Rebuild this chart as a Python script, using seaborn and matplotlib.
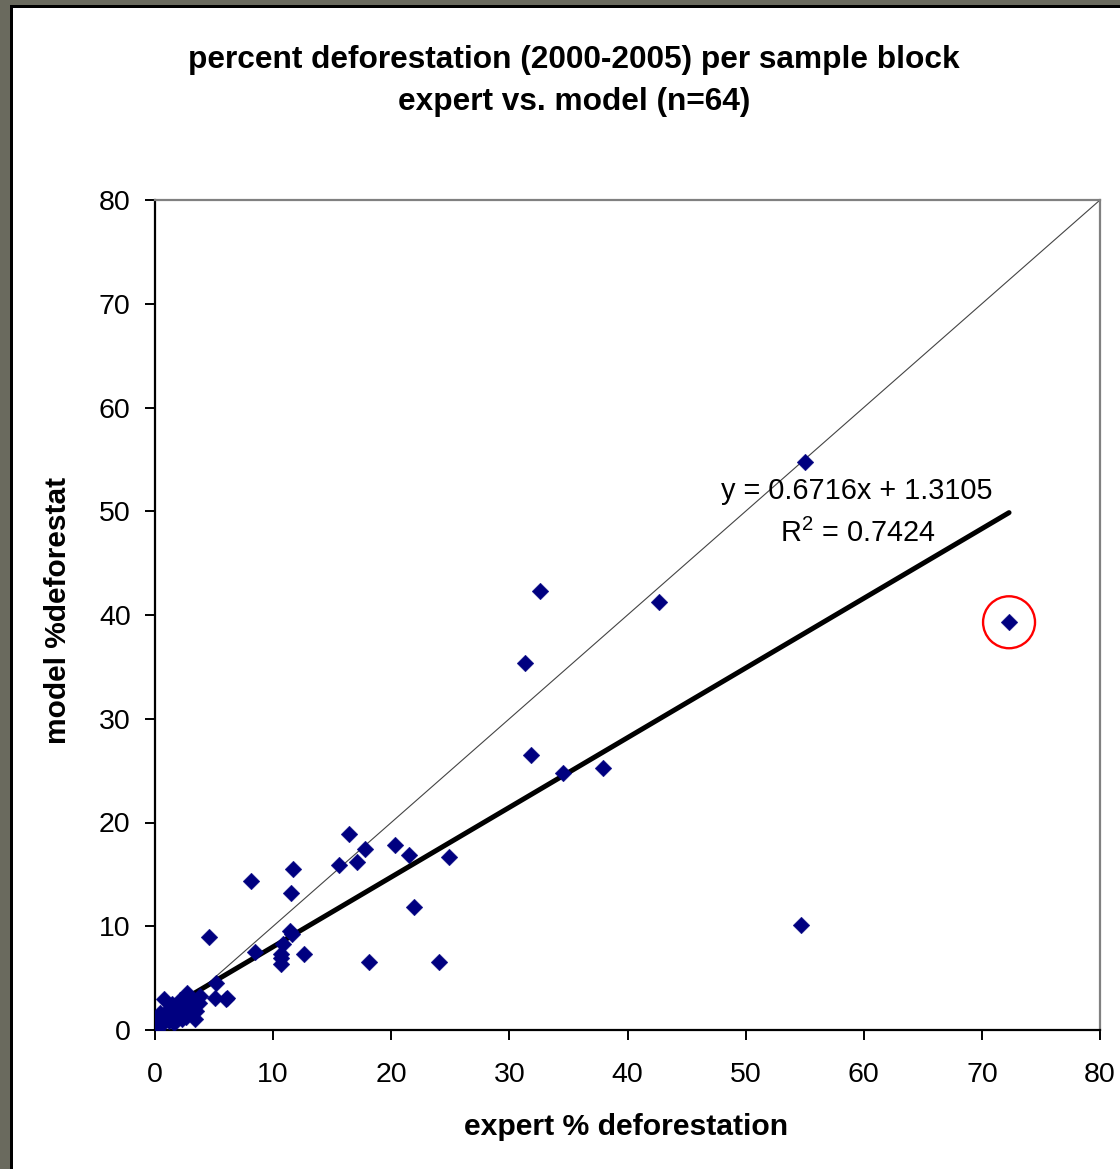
import numpy as np
import pandas as pd
import matplotlib
matplotlib.use("Agg")
import matplotlib.pyplot as plt
from matplotlib.patches import Rectangle
import seaborn as sns

# expert vs. model percent deforestation per sample block (n=64)
expert_pct = [
    55.0, 32.6, 42.7, 31.3, 72.3, 31.8, 34.5, 37.9, 54.7,
    16.4, 17.8, 20.3, 21.5, 24.9, 15.6, 17.1, 11.7, 8.1, 11.5, 21.9,
    4.6, 11.6, 11.4, 10.8, 8.5, 12.6, 10.7, 10.7, 10.7, 18.1, 24.0,
    5.2, 5.1, 6.1, 6.0,
    0.8, 2.7, 2.1, 3.7, 3.5, 3.4, 2.3, 1.5, 0.1, 0.0, 0.4, 1.0, 1.8,
    2.5, 3.0, 3.2, 1.2, 0.5, 2.8, 1.9, 0.2, 0.0, 1.4, 2.4, 3.0, 0.7,
    1.6, 2.6, 0.3, 3.8,
]
model_pct = [
    54.7, 42.3, 41.3, 35.4, 39.3, 26.5, 24.8, 25.3, 10.1,
    18.9, 17.4, 17.8, 16.9, 16.7, 15.9, 16.2, 15.5, 14.4, 13.2, 11.9,
    9.0, 9.3, 9.5, 8.3, 7.5, 7.3, 7.3, 6.9, 6.4, 6.6, 6.6,
    4.5, 3.1, 3.1, 3.0,
    3.0, 3.6, 2.9, 2.6, 1.8, 1.1, 1.1, 1.4, 0.2, 0.7, 1.6, 1.8, 2.2,
    2.4, 3.1, 2.0, 0.9, 0.5, 1.6, 1.7, 0.0, 0.0, 2.5, 1.9, 2.8, 1.2,
    0.7, 1.3, 0.9, 3.3,
]

# outlier highlighted with a circle
outlier_x = [72.3]
outlier_y = [39.3]

# linear trendline reported on the chart
trend_slope = 0.6716
trend_intercept = 1.3105
trend_r2 = 0.7424

axis_ticks = [0, 10, 20, 30, 40, 50, 60, 70, 80]

sns.set_theme(style="white")
plt.rcParams["font.family"] = ["Liberation Sans", "DejaVu Sans"]
plt.rcParams["mathtext.fontset"] = "custom"
plt.rcParams["mathtext.rm"] = "Liberation Sans"
plt.rcParams["mathtext.it"] = "Liberation Sans:italic"
plt.rcParams["mathtext.bf"] = "Liberation Sans:bold"

W, H = 1120, 1169
fig = plt.figure(figsize=(W / 100, H / 100), dpi=100)
fig.patch.set_facecolor("white")

# window frame: grey band on the left/top with a black inner edge
frame_grey = "#6a6a5e"
fig.patches.append(Rectangle((0, 0), 10 / W, 1, transform=fig.transFigure,
                             facecolor=frame_grey, edgecolor="none", zorder=0))
fig.patches.append(Rectangle((0, 1 - 5 / H), 1, 5 / H, transform=fig.transFigure,
                             facecolor=frame_grey, edgecolor="none", zorder=0))
fig.patches.append(Rectangle((10 / W, 0), 2.5 / W, 1 - 5 / H, transform=fig.transFigure,
                             facecolor="black", edgecolor="none", zorder=0))
fig.patches.append(Rectangle((10 / W, 1 - 7.5 / H), 1 - 10 / W, 2.5 / H,
                             transform=fig.transFigure,
                             facecolor="black", edgecolor="none", zorder=0))

ax = fig.add_axes([155 / W, 139 / H, 945 / W, 830 / H])
ax.set_facecolor("white")

df = pd.DataFrame({"expert": expert_pct, "model": model_pct})

# 1:1 reference line
ax.plot([0, 80], [0, 80], color="#444444", lw=0.8, zorder=2)

# fitted trendline
tx = np.linspace(0, max(expert_pct), 200)
trend = pd.DataFrame({"x": tx, "y": trend_slope * tx + trend_intercept})
sns.lineplot(data=trend, x="x", y="y", ax=ax, color="black", lw=3.6, zorder=3)

sns.scatterplot(data=df, x="expert", y="model", ax=ax, marker="D", s=72,
                color="#000080", edgecolor="#000080", linewidth=0.3, zorder=4)

ax.scatter(outlier_x, outlier_y, s=1400, facecolors="none", edgecolors="#ff0000",
           linewidths=1.7, zorder=5)

ax.set_xlim(0, 80)
ax.set_ylim(0, 80)
ax.set_xticks(axis_ticks)
ax.set_yticks(axis_ticks)
ax.tick_params(axis="both", direction="out", length=7, width=1.4, color="black",
               labelsize=20.5, labelcolor="black")
ax.tick_params(axis="x", pad=16, bottom=True)
ax.tick_params(axis="y", pad=10.5, left=True)

for side in ("left", "bottom"):
    ax.spines[side].set_color("black")
    ax.spines[side].set_linewidth(1.6)
for side in ("top", "right"):
    ax.spines[side].set_color("#808080")
    ax.spines[side].set_linewidth(1.6)
    ax.spines[side].set_visible(True)

ax.set_xlabel("expert % deforestation", fontsize=21.7, fontweight="bold", color="black")
ax.xaxis.label.set_va("center")
ax.xaxis.set_label_coords((626 - 155) / 945, (1030 - 1127) / 830)
ax.set_ylabel("model %deforestat", fontsize=21.5, fontweight="bold", color="black")
ax.yaxis.label.set_va("center")
ax.yaxis.set_label_coords((58 - 155) / 945, (1030 - 610) / 830)

ax.text(47.9, 51.95, f"y = {trend_slope}x + {trend_intercept}", fontsize=20.8,
        ha="left", va="center", color="black", zorder=6)
ax.text(52.9, 47.9, r"R$^{2}$" + f" = {trend_r2}", fontsize=20.8,
        ha="left", va="center", color="black", zorder=6)

fig.text(574 / W, 1 - 60 / H, "percent deforestation (2000-2005) per sample block",
         fontsize=22.8, fontweight="bold", ha="center", va="center", color="black")
fig.text(574 / W, 1 - 102 / H, "expert vs. model (n=64)",
         fontsize=22.8, fontweight="bold", ha="center", va="center", color="black")

fig.savefig("out.png", dpi=100, facecolor=fig.get_facecolor())
